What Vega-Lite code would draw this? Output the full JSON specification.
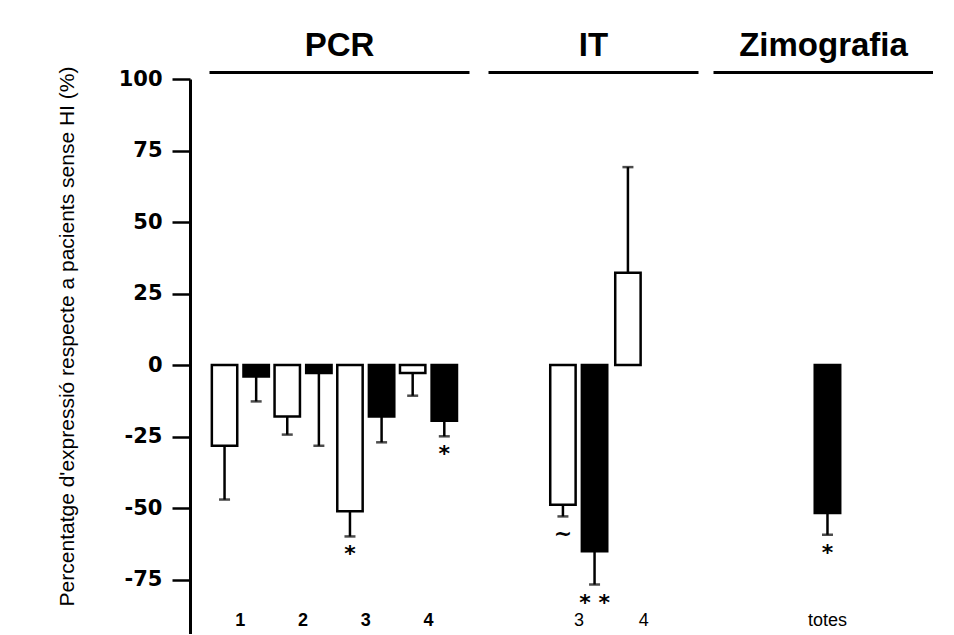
{
  "$schema": "https://vega.github.io/schema/vega-lite/v6.json",
  "background": "white",
  "padding": {"left": 56, "top": 29, "right": 0, "bottom": 0},
  "config": {"view": {"stroke": null}, "font": "Liberation Sans"},
  "datasets": {
    "bars": [
      {"grup": "PCR", "gen": "1", "serie": "blanc", "valor": -28.2, "err": -47.0},
      {"grup": "PCR", "gen": "1", "serie": "negre", "valor": -4.0, "err": -12.7},
      {"grup": "PCR", "gen": "2", "serie": "blanc", "valor": -18.0, "err": -24.3},
      {"grup": "PCR", "gen": "2", "serie": "negre", "valor": -2.8, "err": -28.2},
      {"grup": "PCR", "gen": "3", "serie": "blanc", "valor": -51.1, "err": -59.9, "sig": "*"},
      {"grup": "PCR", "gen": "3", "serie": "negre", "valor": -18.0, "err": -27.0},
      {"grup": "PCR", "gen": "4", "serie": "blanc", "valor": -2.8, "err": -10.7},
      {"grup": "PCR", "gen": "4", "serie": "negre", "valor": -19.5, "err": -24.9, "sig": "*"},
      {"grup": "IT", "gen": "3", "serie": "blanc", "valor": -48.8, "err": -52.9, "sig": "~"},
      {"grup": "IT", "gen": "3", "serie": "negre", "valor": -65.1, "err": -76.7, "sig": "* *"},
      {"grup": "IT", "gen": "4", "serie": "blanc", "valor": 32.3, "err": 69.2},
      {"grup": "Zimografia", "gen": "totes", "serie": "negre", "valor": -51.7, "err": -59.3, "sig": "*"}
    ]
  },
  "spacing": 19,
  "hconcat": [
    {
      "width": 260,
      "height": 555,
      "data": {"name": "bars"},
      "transform": [{"filter": "datum.grup === 'PCR'"}],
      "encoding": {
        "y": {"field": "valor", "type": "quantitative",
          "scale": {"domain": [-94, 100], "nice": false, "zero": false},
          "axis": {"orient": "left", "offset": 19, "values": [-75, -50, -25, 0, 25, 50, 75, 100], "grid": false,
            "domainWidth": 3, "domainColor": "black", "tickSize": 18, "tickWidth": 2.5, "tickColor": "black",
            "labelExpr": "'' + datum.value", "labelFont": "DejaVu Sans", "labelFontSize": 21, "labelFontWeight": "bold", "labelColor": "black", "labelPadding": 10,
            "title": "Percentatge d'expressió respecte a pacients sense HI (%)", "titleFont": "Liberation Sans", "titleFontSize": 21, "titleFontWeight": "normal", "titleColor": "black", "titlePadding": 41, "titleY": 257}}
      },
      "layer": [
        {
          "mark": {"type": "bar", "stroke": "black", "strokeWidth": 2.5},
          "encoding": {
            "x": {"field": "gen", "type": "nominal", "sort": ["1", "2", "3", "4"],
              "scale": {"paddingInner": 0, "paddingOuter": 0.073, "align": 0},
              "axis": {"orient": "bottom", "title": null, "domain": false, "ticks": false, "labelAngle": 0, "labelPadding": 0, "offset": -23, "labelFontSize": 18, "labelFontWeight": "bold", "labelColor": "black"}},
            "xOffset": {"field": "serie", "type": "nominal", "scale": {"domain": ["blanc", "negre"], "paddingInner": 0.197, "paddingOuter": 0.09}},
            "color": {"field": "serie", "type": "nominal", "scale": {"domain": ["blanc", "negre"], "range": ["white", "black"]}, "legend": null}
          }
        },
        {
          "mark": {"type": "rule", "strokeWidth": 2.5, "color": "black"},
          "encoding": {
            "x": {"field": "gen", "type": "nominal", "sort": ["1", "2", "3", "4"],
              "axis": {"orient": "top", "title": "PCR", "domain": true, "domainWidth": 3, "domainColor": "black", "ticks": false, "labels": false, "offset": 7,
                "titleFont": "Liberation Sans", "titleFontSize": 33, "titleFontWeight": "bold", "titleColor": "black", "titlePadding": 10}},
            "xOffset": {"field": "serie", "type": "nominal"},
            "y2": {"field": "err"}
          }
        },
        {
          "mark": {"type": "tick", "orient": "horizontal", "size": 11, "thickness": 2.5, "color": "black"},
          "encoding": {
            "x": {"field": "gen", "type": "nominal", "sort": ["1", "2", "3", "4"], "axis": null},
            "xOffset": {"field": "serie", "type": "nominal"},
            "y": {"field": "err", "type": "quantitative"}
          }
        },
        {
          "transform": [{"filter": "isValid(datum.sig)"}],
          "mark": {"type": "text", "font": "DejaVu Sans", "fontSize": 22, "fontWeight": "bold", "dy": 18, "baseline": "middle", "color": "black"},
          "encoding": {
            "x": {"field": "gen", "type": "nominal", "sort": ["1", "2", "3", "4"], "axis": null},
            "xOffset": {"field": "serie", "type": "nominal"},
            "y": {"field": "err", "type": "quantitative"},
            "text": {"field": "sig"}
          }
        }
      ],
      "resolve": {"axis": {"x": "independent"}}
    },
    {
      "spacing": 15,
      "hconcat": [
        {
          "width": 210,
          "height": 555,
          "data": {"name": "bars"},
          "transform": [{"filter": "datum.grup === 'IT'"}],
          "encoding": {
            "y": {"field": "valor", "type": "quantitative", "scale": {"domain": [-94, 100], "nice": false, "zero": false}, "axis": null}
          },
          "layer": [
            {
              "mark": {"type": "bar", "stroke": "black", "strokeWidth": 2.5},
              "encoding": {
                "x": {"field": "gen", "type": "nominal", "sort": ["3", "4"],
                  "scale": {"paddingInner": 0.031, "paddingOuter": 0.631, "align": 0.724},
                  "axis": {"orient": "bottom", "title": null, "domain": false, "ticks": false, "labelAngle": 0, "labelPadding": 0, "offset": -23, "labelFontSize": 18, "labelFontWeight": "normal", "labelColor": "black"}},
                "xOffset": {"field": "serie", "type": "nominal", "scale": {"domain": ["blanc", "negre"], "paddingInner": 0.197, "paddingOuter": 0.09}},
                "color": {"field": "serie", "type": "nominal", "scale": {"domain": ["blanc", "negre"], "range": ["white", "black"]}, "legend": null}
              }
            },
            {
              "mark": {"type": "rule", "strokeWidth": 2.5, "color": "black"},
              "encoding": {
                "x": {"field": "gen", "type": "nominal", "sort": ["3", "4"],
                  "axis": {"orient": "top", "title": "IT", "domain": true, "domainWidth": 3, "domainColor": "black", "ticks": false, "labels": false, "offset": 7,
                    "titleFont": "Liberation Sans", "titleFontSize": 33, "titleFontWeight": "bold", "titleColor": "black", "titlePadding": 10}},
                "xOffset": {"field": "serie", "type": "nominal"},
                "y2": {"field": "err"}
              }
            },
            {
              "mark": {"type": "tick", "orient": "horizontal", "size": 11, "thickness": 2.5, "color": "black"},
              "encoding": {
                "x": {"field": "gen", "type": "nominal", "sort": ["3", "4"], "axis": null},
                "xOffset": {"field": "serie", "type": "nominal"},
                "y": {"field": "err", "type": "quantitative", "axis": null}
              }
            },
            {
              "transform": [{"filter": "isValid(datum.sig)"}],
              "mark": {"type": "text", "font": "DejaVu Sans", "fontSize": 22, "fontWeight": "bold", "dy": 18, "baseline": "middle", "color": "black"},
              "encoding": {
                "x": {"field": "gen", "type": "nominal", "sort": ["3", "4"], "axis": null},
                "xOffset": {"field": "serie", "type": "nominal"},
                "y": {"field": "err", "type": "quantitative", "axis": null},
                "text": {"field": "sig"}
              }
            }
          ],
          "resolve": {"axis": {"x": "independent"}}
        },
        {
          "width": 220,
          "height": 555,
          "data": {"name": "bars"},
          "transform": [{"filter": "datum.grup === 'Zimografia'"}],
          "encoding": {
            "y": {"field": "valor", "type": "quantitative", "scale": {"domain": [-94, 100], "nice": false, "zero": false}, "axis": null}
          },
          "layer": [
            {
              "mark": {"type": "bar", "stroke": "black", "strokeWidth": 2.5},
              "encoding": {
                "x": {"field": "gen", "type": "nominal",
                  "scale": {"paddingInner": 0.738, "paddingOuter": 1, "align": 0.523},
                  "axis": {"orient": "bottom", "title": null, "domain": false, "ticks": false, "labelAngle": 0, "labelPadding": 0, "offset": -23, "labelFontSize": 18, "labelFontWeight": "normal", "labelColor": "black"}},
                "color": {"field": "serie", "type": "nominal", "scale": {"domain": ["blanc", "negre"], "range": ["white", "black"]}, "legend": null}
              }
            },
            {
              "mark": {"type": "rule", "strokeWidth": 2.5, "color": "black"},
              "encoding": {
                "x": {"field": "gen", "type": "nominal",
                  "axis": {"orient": "top", "title": "Zimografia", "domain": true, "domainWidth": 3, "domainColor": "black", "ticks": false, "labels": false, "offset": 7,
                    "titleFont": "Liberation Sans", "titleFontSize": 33, "titleFontWeight": "bold", "titleColor": "black", "titlePadding": 10}},
                "y2": {"field": "err"}
              }
            },
            {
              "mark": {"type": "tick", "orient": "horizontal", "size": 11, "thickness": 2.5, "color": "black"},
              "encoding": {
                "x": {"field": "gen", "type": "nominal", "axis": null},
                "y": {"field": "err", "type": "quantitative", "axis": null}
              }
            },
            {
              "transform": [{"filter": "isValid(datum.sig)"}],
              "mark": {"type": "text", "font": "DejaVu Sans", "fontSize": 22, "fontWeight": "bold", "dy": 18, "baseline": "middle", "color": "black"},
              "encoding": {
                "x": {"field": "gen", "type": "nominal", "axis": null},
                "y": {"field": "err", "type": "quantitative", "axis": null},
                "text": {"field": "sig"}
              }
            }
          ],
          "resolve": {"axis": {"x": "independent"}}
        }
      ]
    }
  ]
}
